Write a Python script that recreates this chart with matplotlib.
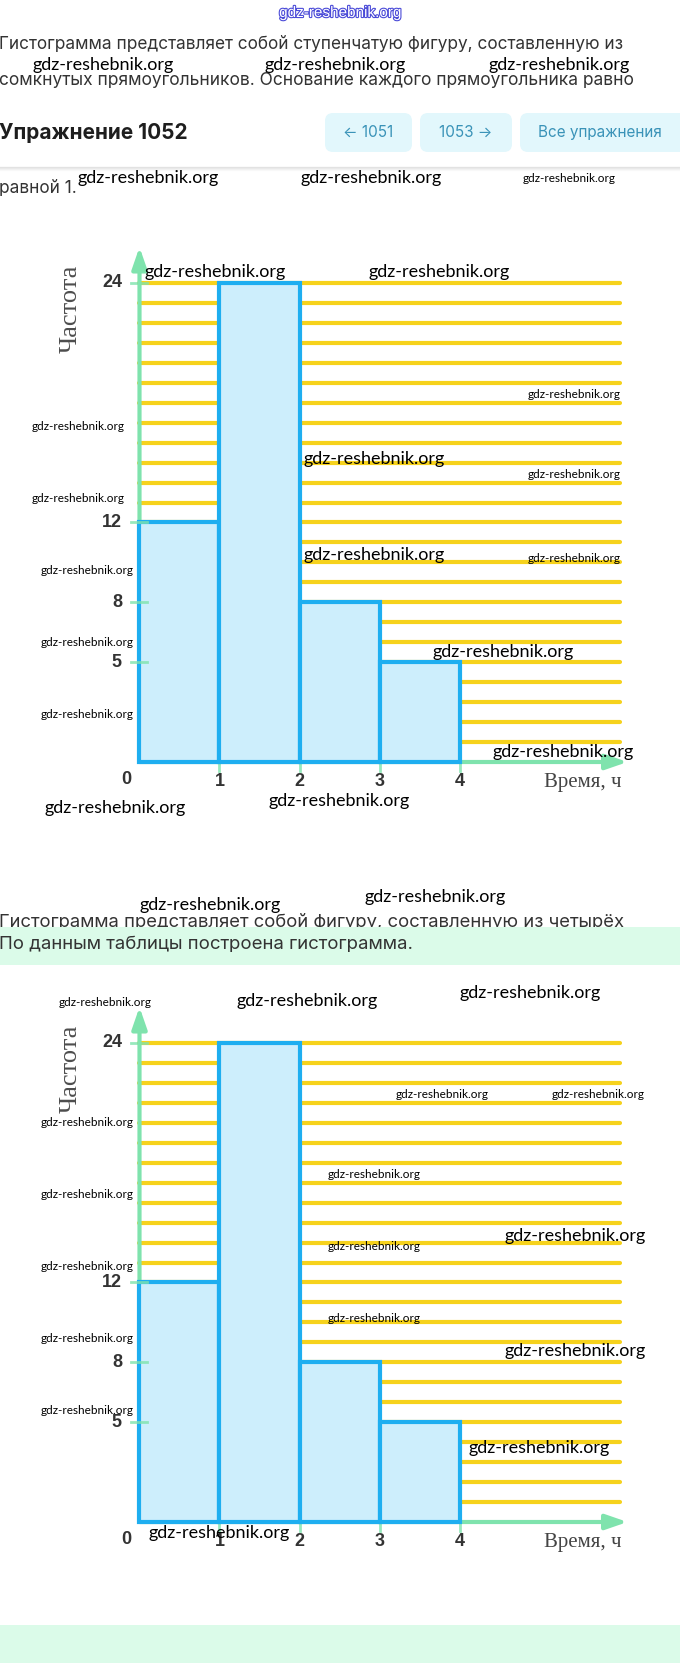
import numpy as np
import matplotlib
matplotlib.use("Agg")
import matplotlib.pyplot as plt
from matplotlib.patches import FancyBboxPatch, Rectangle
import matplotlib.patheffects as pe

# histogram data (same picture twice on the page)
time_edges = [0, 1, 2, 3, 4]
frequency = [12, 24, 8, 5]
freq_ticks = [24, 12, 8, 5]
time_ticks = [1, 2, 3, 4]
grid_levels = np.arange(1, max(frequency) + 1)

W, H = 680, 1663
PX_X = 80.0     # px per hour
PX_Y = 19.96    # px per frequency unit
AXIS_X = 139.5  # px of the vertical axis

BLUE = '#1eaef0'
FILL = '#cdeefc'
YELLOW = '#f6d21c'
GREEN = '#7fe3ad'
TEXT = '#333333'
MINT = '#dbfbe9'
UI = ['Inter', 'DejaVu Sans']

fig = plt.figure(figsize=(W / 100, H / 100), dpi=100)

bg = fig.add_axes([0, 0, 1, 1], zorder=0)
bg.set_xlim(0, W)
bg.set_ylim(H, 0)
bg.axis('off')

over = fig.add_axes([0, 0, 1, 1], zorder=5)
over.set_xlim(0, W)
over.set_ylim(H, 0)
over.axis('off')
over.patch.set_alpha(0)

# ---- page text ----
bg.text(-1, 44, 'Гистограмма представляет собой ступенчатую фигуру, составленную из',
        fontsize=12.4, family=UI, color=TEXT, va='center')
bg.text(-1, 81, 'сомкнутых прямоугольников. Основание каждого прямоугольника равно',
        fontsize=12.5, family=UI, color=TEXT, va='center')
bg.text(-1, 133, 'Упражнение 1052', fontsize=15, fontweight='bold', family=UI,
        color='#1e1e1e', va='center')

buttons = [(325, 87, '← 1051'), (420, 92, '1053 →'), (520, 170, 'Все упражнения')]
for bx, bw, label in buttons:
    bg.add_patch(FancyBboxPatch((bx, 113), bw, 39, boxstyle='round,pad=0,rounding_size=8',
                                fc='#e2f7fc', ec='none'))
    tx = bx + bw / 2 if bw < 150 else 600
    bg.text(tx, 132, label, fontsize=11, family=UI, color='#3a93b8', ha='center', va='center')

for i, a in enumerate([0.10, 0.06, 0.04, 0.02]):
    bg.plot([0, W], [167 + i, 167 + i], color='black', alpha=a, lw=1)
bg.text(-1, 189, 'равной 1.', fontsize=12.4, family=UI, color=TEXT, va='center')

bg.text(-1, 927, 'Гистограмма представляет собой фигуру, составленную из четырёх',
        fontsize=13.3, family=UI, color=TEXT, va='baseline')
bg.add_patch(Rectangle((0, 927), W, 38, fc=MINT, ec='none', zorder=3))
bg.text(-1, 945, 'По данным таблицы построена гистограмма.', fontsize=13.4, family=UI,
        color=TEXT, va='center', zorder=4)
bg.add_patch(Rectangle((0, 1625), W, 40, fc=MINT, ec='none', zorder=3))


def draw_histogram(zero_y):
    left, right = 30, 660
    top, bottom = zero_y - 545, zero_y + 45
    ax = fig.add_axes([left / W, 1 - bottom / H, (right - left) / W, (bottom - top) / H], zorder=2)
    ax.set_xlim((left - AXIS_X) / PX_X, (right - AXIS_X) / PX_X)
    ax.set_ylim((zero_y - bottom) / PX_Y, (zero_y - top) / PX_Y)
    ax.axis('off')
    ax.patch.set_alpha(0)

    ax.hlines(grid_levels, 0, 6.0, colors=YELLOW, lw=3, capstyle='round', zorder=1)

    arrow = dict(arrowstyle='-|>,head_length=1.3,head_width=0.45', color=GREEN, lw=3,
                 shrinkA=0, shrinkB=0, mutation_scale=10)
    ax.annotate('', xy=(6.1, 0), xytext=(0, 0), arrowprops=arrow, zorder=2)
    ax.annotate('', xy=(0, 25.8), xytext=(0, 0), arrowprops=arrow, zorder=2)

    ax.bar(time_edges[:-1], frequency, width=np.diff(time_edges), align='edge',
           color=FILL, edgecolor=BLUE, linewidth=3, zorder=3)

    for v in freq_ticks:
        ax.plot([-0.1, 0.1], [v, v], color=GREEN, lw=2, alpha=0.8, zorder=4)
        ax.text(-0.22, v, str(v), ha='right', va='center', fontsize=13, fontweight='bold',
                color=TEXT, family='Liberation Sans')
    for t in time_ticks:
        ax.plot([t, t], [0, -0.45], color=GREEN, lw=2, alpha=0.8, zorder=2)
        ax.text(t, -0.98, str(t), ha='center', va='center', fontsize=13, fontweight='bold',
                color=TEXT, family='Liberation Sans')
    ax.text(-0.17, -0.9, '0', ha='center', va='center', fontsize=13, fontweight='bold',
            color=TEXT, family='Liberation Sans')

    ax.text(5.54, -1.04, 'Время, ч', ha='center', va='center', fontsize=15,
            family='Liberation Serif', color='#444444')
    ax.text(-0.86, 22.7, 'Частота', ha='center', va='center', fontsize=19, rotation=90,
            family='Liberation Serif', color='#4d4d4d')
    return ax


draw_histogram(762)
draw_histogram(1522)

# ---- watermarks ----
over.text(340, 13, 'gdz-reshebnik.org', fontsize=11, family='Liberation Sans', color='white',
          ha='center', va='center',
          path_effects=[pe.withStroke(linewidth=1.6, foreground='#4b4bd8')])

big = [(103, 65), (335, 65), (559, 65), (148, 178), (371, 178),
       (215, 272), (439, 272), (374, 459), (374, 555), (503, 652), (563, 752),
       (115, 808), (339, 801), (210, 905), (435, 897),
       (307, 1001), (530, 993), (575, 1236), (575, 1351), (539, 1448), (219, 1533)]
small = [(569, 178), (574, 394), (78, 427), (574, 474), (78, 498), (87, 570), (574, 559),
         (87, 642), (87, 714),
         (105, 1003), (442, 1095), (598, 1095), (87, 1122), (374, 1174), (87, 1194),
         (374, 1246), (87, 1267), (374, 1318), (87, 1339), (87, 1411)]
for x, y in big:
    over.text(x, y, 'gdz-reshebnik.org', fontsize=13, family='Lato', color='black',
              ha='center', va='center')
for x, y in small:
    over.text(x, y, 'gdz-reshebnik.org', fontsize=8.5, family='Lato', color='black',
              ha='center', va='center')

fig.savefig('out.png', dpi=100)
